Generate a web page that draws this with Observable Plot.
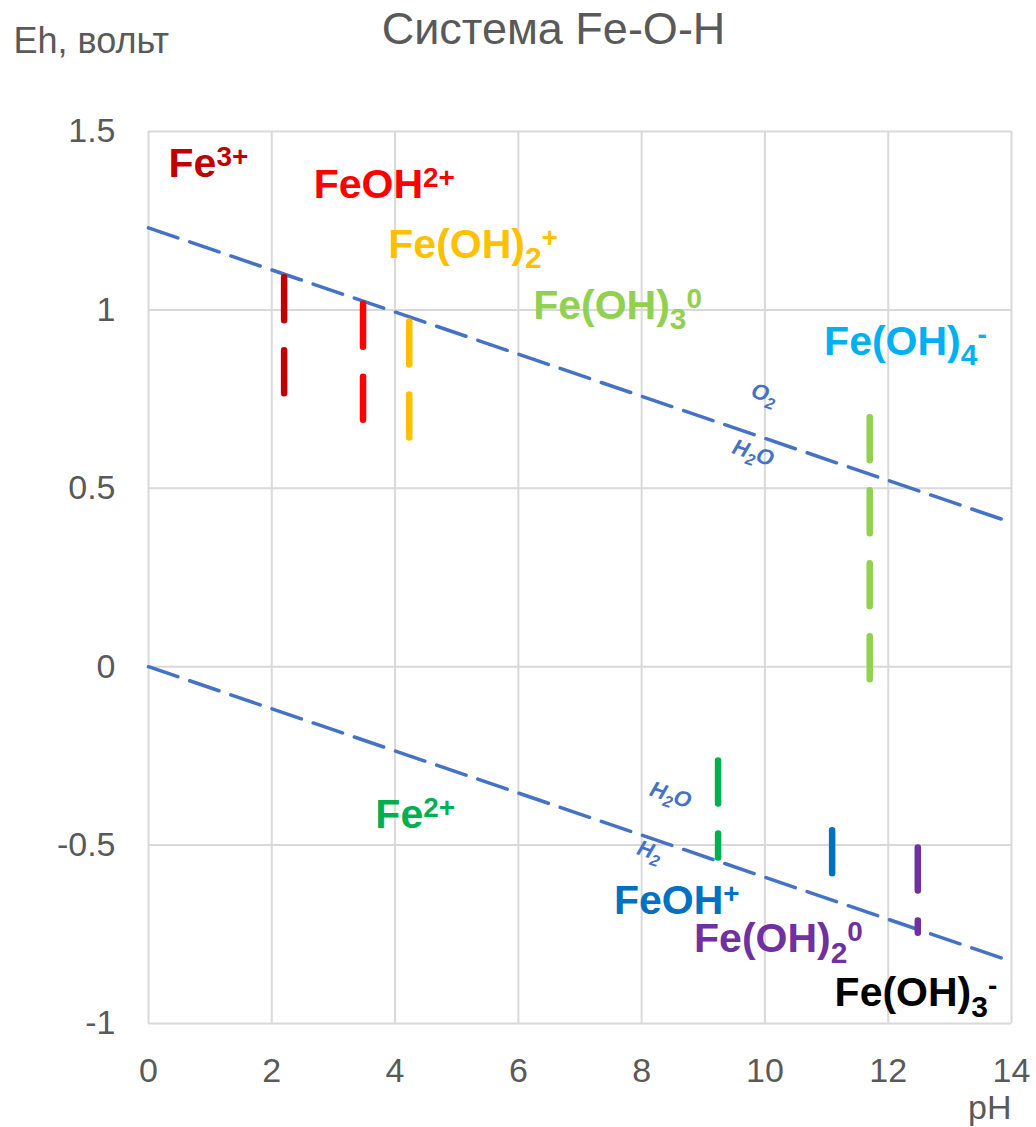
<!DOCTYPE html>
<html>
<head>
<meta charset="utf-8">
<script src="https://cdn.jsdelivr.net/npm/d3@7"></script>
<script src="https://cdn.jsdelivr.net/npm/@observablehq/plot@0.6"></script>
<style>
  html, body { margin: 0; padding: 0; background: #ffffff; }
  #chart { width: 1036px; height: 1127px; }
</style>
</head>
<body>
<div id="chart"></div>
<script>
// ---- Data ----
const chartTitle = "Система Fe-O-H";
const yAxisTitle = "Eh, вольт";
const xAxisTitle = "pH";

const xTicks = [0, 2, 4, 6, 8, 10, 12, 14];
const yTicks = [-1, -0.5, 0, 0.5, 1, 1.5];

// Water stability lines (O2/H2O and H2O/H2)
const waterPH = [0, 14];
const o2Line = [1.23, 0.404];
const h2Line = [0, -0.826];

// Vertical boundary segments
const segPH     = [2.2, 3.48, 4.23, 11.7, 9.24, 11.09, 12.48];
const segTop    = [1.09, 1.016, 0.966, 0.698, -0.264, -0.460, -0.508];
const segBottom = [0.760, 0.687, 0.636, -0.046, -0.536, -0.580, -0.747];
const segColor  = ["#C00000", "#FF0000", "#FFC000", "#92D050", "#00B050", "#0070C0", "#7030A0"];

// Species labels (markup: _{sub} ^{sup})
const speciesLabels = ["Fe^{3+}", "FeOH^{2+}", "Fe(OH)_{2}^{+}", "Fe(OH)_{3}^{0}", "Fe(OH)_{4}^{-}",
                       "Fe^{2+}", "FeOH^{+}", "Fe(OH)_{2}^{0}", "Fe(OH)_{3}^{-}"];
const speciesPH    = [0.325, 2.68, 3.89, 6.24, 10.96, 3.68, 7.55, 8.85, 11.13];
const speciesEh    = [1.373, 1.313, 1.145, 0.975, 0.874, -0.453, -0.694, -0.801, -0.952];
const speciesColor = ["#C00000", "#FF0000", "#FFC000", "#92D050", "#00B0F0",
                      "#00B050", "#0070C0", "#7030A0", "#000000"];

// Water line labels
const waterLabels  = ["O_{2}", "H_{2}O", "H_{2}O", "H_{2}"];
const waterLabelPH = [9.99, 9.81, 8.47, 8.13];
const waterLabelEh = [0.764, 0.599, -0.360, -0.517];

// ---- Build tables ----
const o2Data = waterPH.map((p, i) => ({pH: p, Eh: o2Line[i]}));
const h2Data = waterPH.map((p, i) => ({pH: p, Eh: h2Line[i]}));
const segData = segPH.map((p, i) => ({pH: p, top: segTop[i], bottom: segBottom[i], color: segColor[i]}));
const speciesData = speciesLabels.map((t, i) => ({label: t, pH: speciesPH[i], Eh: speciesEh[i], color: speciesColor[i]}));
const waterLabelData = waterLabels.map((t, i) => ({label: t, pH: waterLabelPH[i], Eh: waterLabelEh[i]}));

const FONT = "'Liberation Sans', Arial, Helvetica, sans-serif";
const GREY = "#595959";
const GRID = "#d9d9d9";
const fmt = d => String(d);

const chart = Plot.plot({
  width: 1036,
  height: 1127,
  marginLeft: 148,
  marginRight: 25,
  marginTop: 131,
  marginBottom: 104,
  style: {fontFamily: FONT, fontSize: "34px", color: GREY, background: "#ffffff"},
  x: {domain: [0, 14], ticks: xTicks, tickSize: 0, tickPadding: 34, tickFormat: fmt, label: null},
  y: {domain: [-1, 1.5], ticks: yTicks, tickSize: 0, tickPadding: 33, tickFormat: fmt, label: null},
  color: {type: "identity"},
  marks: [
    Plot.ruleX(xTicks, {stroke: GRID, strokeWidth: 2}),
    Plot.ruleY(yTicks, {stroke: GRID, strokeWidth: 2}),
    Plot.line(o2Data, {x: "pH", y: "Eh", stroke: "#4472C4", strokeWidth: 3.5, strokeDasharray: "31,12.5"}),
    Plot.line(h2Data, {x: "pH", y: "Eh", stroke: "#4472C4", strokeWidth: 3.5, strokeDasharray: "31,12.5"}),
    Plot.ruleX(segData, {x: "pH", y1: "top", y2: "bottom", stroke: "color", strokeWidth: 6.5,
                         strokeLinecap: "round", strokeDasharray: "43,30"}),
    Plot.text(speciesData, {x: "pH", y: "Eh", text: "label", fill: "color", fontSize: 41,
                            fontWeight: "bold", textAnchor: "start", lineAnchor: "bottom"}),
    Plot.text(waterLabelData, {x: "pH", y: "Eh", text: "label", fill: "#4472C4", fontSize: 22,
                               fontWeight: "bold", fontStyle: "italic", rotate: 19,
                               textAnchor: "middle", lineAnchor: "middle"}),
    Plot.text([chartTitle], {text: d => d, frameAnchor: "top-left", dx: 553 - 148, dy: 43 - 131,
                             textAnchor: "middle", lineAnchor: "bottom", fontSize: 45, fill: GREY}),
    Plot.text([yAxisTitle], {text: d => d, frameAnchor: "top-left", dx: 13 - 148, dy: 52 - 131,
                             textAnchor: "start", lineAnchor: "bottom", fontSize: 36, fill: GREY}),
    Plot.text([xAxisTitle], {text: d => d, frameAnchor: "bottom-right", dx: 0, dy: 95,
                             textAnchor: "end", lineAnchor: "bottom", fontSize: 34, fill: GREY})
  ]
});

// Rich text: turn _{..} and ^{..} into sub/superscript tspans
function richify(el, base) {
  const src = el.textContent;
  if (!/[_^]\{/.test(src)) return;
  const re = /([_^])\{([^}]*)\}|([^_^]+)/g;
  while (el.firstChild) el.removeChild(el.firstChild);
  let shift = 0, m;
  while ((m = re.exec(src))) {
    const t = document.createElementNS("http://www.w3.org/2000/svg", "tspan");
    let target = 0, size = base;
    if (m[1] === "_") { target = 0.25 * base; size = 0.73 * base; t.textContent = m[2]; }
    else if (m[1] === "^") { target = -0.27 * base; size = 0.68 * base; t.textContent = m[2]; }
    else { t.textContent = m[3]; }
    t.setAttribute("font-size", size);
    if (target !== shift) t.setAttribute("dy", target - shift);
    shift = target;
    el.appendChild(t);
  }
}
chart.querySelectorAll("text").forEach(el => {
  const s = el.textContent;
  if (speciesLabels.includes(s)) richify(el, 41);
  else if (waterLabels.includes(s)) richify(el, 22);
});

document.getElementById("chart").appendChild(chart);
</script>
</body>
</html>
